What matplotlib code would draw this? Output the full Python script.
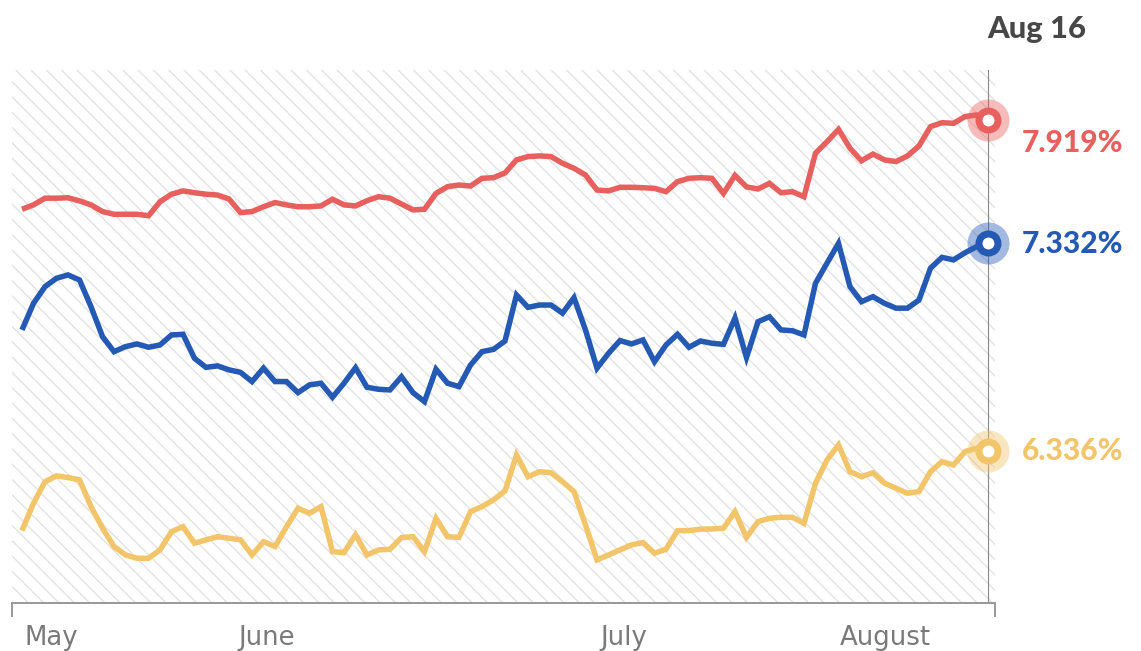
import numpy as np
import matplotlib.pyplot as plt
from matplotlib.collections import LineCollection
from matplotlib.patches import Rectangle
from matplotlib.transforms import blended_transform_factory, IdentityTransform

# daily rate readings, May 1 through Aug 16 (percent)
jumbo_30yr = [7.492, 7.513, 7.545, 7.545, 7.547, 7.532, 7.513, 7.481, 7.468, 7.468,
              7.468, 7.461, 7.528, 7.564, 7.580, 7.571, 7.564, 7.560, 7.541, 7.476,
              7.481, 7.504, 7.524, 7.513, 7.504, 7.504, 7.508, 7.540, 7.513, 7.508,
              7.533, 7.552, 7.545, 7.517, 7.489, 7.492, 7.568, 7.600, 7.608, 7.603,
              7.640, 7.643, 7.666, 7.728, 7.744, 7.747, 7.744, 7.712, 7.688, 7.656,
              7.584, 7.580, 7.597, 7.597, 7.595, 7.592, 7.576, 7.624, 7.640, 7.643,
              7.640, 7.568, 7.654, 7.599, 7.589, 7.616, 7.571, 7.576, 7.552, 7.760,
              7.815, 7.874, 7.784, 7.724, 7.756, 7.728, 7.720, 7.747, 7.795, 7.887,
              7.906, 7.903, 7.935, 7.943, 7.919]

fixed_30yr = [6.915, 7.042, 7.122, 7.162, 7.178, 7.154, 7.026, 6.883, 6.811, 6.835,
              6.848, 6.832, 6.843, 6.891, 6.894, 6.779, 6.736, 6.743, 6.724, 6.712,
              6.668, 6.732, 6.668, 6.668, 6.615, 6.652, 6.660, 6.593, 6.660, 6.734,
              6.641, 6.631, 6.628, 6.691, 6.615, 6.572, 6.727, 6.660, 6.644, 6.747,
              6.811, 6.822, 6.862, 7.082, 7.023, 7.034, 7.034, 6.995, 7.069, 6.915,
              6.732, 6.803, 6.864, 6.848, 6.867, 6.763, 6.843, 6.894, 6.832, 6.862,
              6.851, 6.846, 6.972, 6.783, 6.954, 6.978, 6.915, 6.911, 6.891, 7.138,
              7.234, 7.329, 7.122, 7.050, 7.074, 7.042, 7.019, 7.019, 7.058, 7.210,
              7.262, 7.250, 7.284, 7.313, 7.332]

fixed_15yr = [5.955, 6.086, 6.189, 6.217, 6.209, 6.198, 6.070, 5.967, 5.879, 5.839,
              5.823, 5.823, 5.863, 5.950, 5.974, 5.895, 5.911, 5.926, 5.919, 5.911,
              5.839, 5.902, 5.879, 5.974, 6.062, 6.038, 6.070, 5.855, 5.850, 5.935,
              5.839, 5.863, 5.866, 5.922, 5.926, 5.855, 6.014, 5.926, 5.923, 6.046,
              6.070, 6.102, 6.145, 6.317, 6.213, 6.237, 6.232, 6.189, 6.142, 5.982,
              5.815, 5.839, 5.863, 5.887, 5.898, 5.847, 5.866, 5.955, 5.955, 5.962,
              5.963, 5.967, 6.046, 5.923, 5.998, 6.014, 6.019, 6.019, 5.990, 6.182,
              6.293, 6.365, 6.237, 6.213, 6.232, 6.182, 6.158, 6.134, 6.142, 6.237,
              6.285, 6.269, 6.333, 6.349, 6.336]

months = ['May', 'June', 'July', 'August']
month_pos = [0.26, 18.8, 50.3, 71.1]
last_label = 'Aug 16'

DPI = 92
W, H = 1141, 651
px = 72 / DPI
fig = plt.figure(figsize=(W / DPI, H / DPI), dpi=DPI)
ax = fig.add_axes([12 / W, 1 - 603 / H, 983 / W, 533 / H])

n = len(jumbo_30yr)
x = np.arange(n)
ax.set_xlim(-0.87, 84.61)
ax.set_ylim(5.609, 8.158)

# hatched backdrop up to the last day: thin diagonal strokes, clipped to a box
box = Rectangle((-0.435, 5.609), n - 1 + 0.435, 8.158 - 5.609,
                facecolor='white', edgecolor='none', zorder=0)
ax.add_patch(box)
step = 15.3
segs = [[(c, H), (c + H, 0)] for c in np.arange(-H, W, step)]
hatch = LineCollection(segs, colors='#e3e3e3', linewidths=1.4 * px,
                       transform=IdentityTransform(), zorder=0.5)
hatch.set_clip_path(box)
ax.add_collection(hatch, autolim=False)
ax.axvline(n - 1, color='#8a8a8a', lw=0.9, zorder=1)

series = [(jumbo_30yr, '#e8605e'), (fixed_30yr, '#2459b4'), (fixed_15yr, '#f3c56b')]
label_dy = [-32, -10, -9]
for (vals, col), dy in zip(series, label_dy):
    ax.plot(x, vals, color=col, lw=5.5 * px, solid_joinstyle='miter',
            solid_capstyle='butt', zorder=3)
    ax.plot(x[-1], vals[-1], 'o', ms=42 * px, color=col, alpha=0.42, mew=0,
            zorder=4, clip_on=False)
    ax.plot(x[-1], vals[-1], 'o', ms=19 * px, mfc='white', mec=col,
            mew=7 * px, zorder=5, clip_on=False)
    ax.annotate(f'{vals[-1]:.3f}%', (x[-1], vals[-1]), xytext=(34, dy),
                textcoords='offset pixels', ha='left', va='baseline',
                color=col, fontsize=30 * px, fontweight='black', family='Lato',
                annotation_clip=False)

for s in ['top', 'left', 'right']:
    ax.spines[s].set_visible(False)
ax.spines['bottom'].set_color('#9a9a9a')
ax.spines['bottom'].set_linewidth(2 * px)
ax.set_yticks([])
ax.set_xticks([-0.87, 84.61])
ax.set_xticklabels([])
ax.tick_params(axis='x', direction='out', length=14 * px, width=2 * px,
               color='#9a9a9a')

trans = blended_transform_factory(ax.transData, fig.transFigure)
for m, p in zip(months, month_pos):
    ax.text(p, 1 - 645 / H, m, transform=trans, ha='left', va='baseline',
            fontsize=26 * px, color='#7a7a7a', family='DejaVu Sans')

fig.text(987 / W, 1 - 38 / H, last_label, ha='left', va='baseline',
         fontsize=31 * px, fontweight='black', color='#474747', family='Lato')

fig.savefig('out.png', dpi=DPI)
